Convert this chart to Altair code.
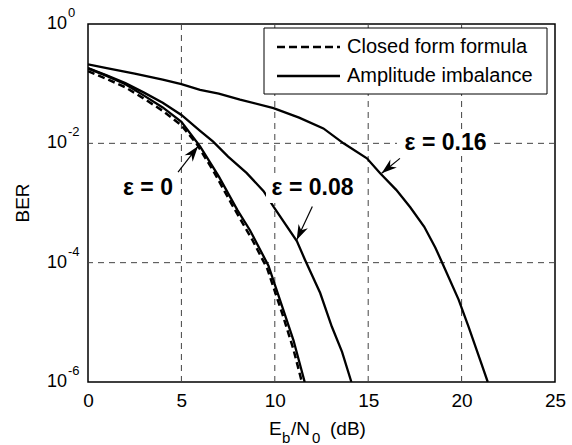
import math
import altair as alt
import pandas as pd

# ---------------- data ----------------
ebn0_closed = [0, 1, 2, 3, 4, 5, 5.8, 6.7, 7.7, 8.8, 9.6, 10.4, 11.0, 11.45]
ber_closed = [0.162, 0.12, 0.087, 0.056, 0.035, 0.020, 0.0100, 3.5e-3, 9.5e-4,
              2.4e-4, 7.9e-5, 1.4e-5, 3.5e-6, 1.0e-6]

ebn0_eps0 = [0, 1, 2, 3, 4, 5, 6, 7, 8, 8.67, 9.66, 10.46, 11.0, 11.6]
ber_eps0 = [0.18, 0.135, 0.098, 0.063, 0.040, 0.023, 8.9e-3, 2.8e-3, 7.6e-4,
            3.5e-4, 8.9e-5, 1.6e-5, 5.0e-6, 1.0e-6]

ebn0_eps008 = [0, 1, 2, 3, 4, 5, 6, 6.7, 7.5, 8.5, 9.4, 9.93, 11.18, 11.62,
               12.43, 13.05, 13.6, 14.1]
ber_eps008 = [0.182, 0.138, 0.102, 0.0708, 0.0479, 0.0299, 0.0162, 0.0107,
              6.0e-3, 3.16e-3, 1.58e-3, 8.7e-4, 2.3e-4, 1.11e-4, 3.1e-5,
              8.5e-6, 3.2e-6, 1.0e-6]

ebn0_eps016 = [0, 1, 2.5, 4, 5, 6, 7, 8.14, 9.93, 11.3, 12.6, 13.68, 14.93,
               15.64, 16.5, 17.25, 18.0, 18.59, 18.96, 19.84, 20.37, 21.0, 21.4]
ber_eps016 = [0.211, 0.182, 0.148, 0.117, 0.098, 0.079, 0.068, 0.054, 0.039,
              0.027, 0.0178, 0.0100, 5.6e-3, 3.16e-3, 1.66e-3, 8.5e-4, 4.0e-4,
              1.8e-4, 1.0e-4, 2.4e-5, 8.5e-6, 2.3e-6, 1.0e-6]

x_ticks = [0, 5, 10, 15, 20, 25]
x_grid = [5, 10, 15, 20]
y_ticks = [1, 1e-2, 1e-4, 1e-6]
y_tick_exps = ["0", "-2", "-4", "-6"]
y_grid = [1e-2, 1e-4]

legend_labels = ["Closed form formula", "Amplitude imbalance"]

# annotations (label text, label position, arrow start, arrow tip) in data units
ann_text = ["\u03b5 = 0", "\u03b5 = 0.08", "\u03b5 = 0.16"]
ann_tx = [3.21, 12.02, 19.14]
ann_ty = [1.8e-3, 1.8e-3, 1.0e-2]
arr_x0 = [4.82, 12.01, 16.70]
arr_y0 = [3.3e-3, 8.7e-4, 5.6e-3]
arr_x1 = [5.89, 11.17, 15.72]
arr_y1 = [8.9e-3, 2.4e-4, 3.16e-3]

# ---------------- layout ----------------
W, H = 467, 358
FONT = "Liberation Sans"

xs = alt.Scale(domain=[0, 25], nice=False, zero=False)
ys = alt.Scale(type="log", domain=[1e-6, 1], nice=False)


def px(v):
    return v / 25 * W


def py(b):
    return -math.log10(b) / 6 * H


angles = []
for a, b, c, d in zip(arr_x0, arr_y0, arr_x1, arr_y1):
    dx = px(c) - px(a)
    dy = py(d) - py(b)
    angles.append(math.degrees(math.atan2(dx, -dy)) % 360)

closed_df = pd.DataFrame({"x": ebn0_closed, "y": ber_closed})
sim_df = pd.concat([
    pd.DataFrame({"x": ebn0_eps0, "y": ber_eps0, "s": "e0"}),
    pd.DataFrame({"x": ebn0_eps008, "y": ber_eps008, "s": "e008"}),
    pd.DataFrame({"x": ebn0_eps016, "y": ber_eps016, "s": "e016"}),
])
ann_df = pd.DataFrame({"t": ann_text, "tx": ann_tx, "ty": ann_ty,
                       "x0": arr_x0, "y0": arr_y0, "x1": arr_x1, "y1": arr_y1,
                       "ang": angles})

one = pd.DataFrame({"k": [0]})

xaxis = alt.Axis(values=x_ticks, grid=False, ticks=False, tickSize=0,
                 domain=False, labelFontSize=19, labelFont=FONT,
                 labelColor="black", labelPadding=9, title=None,
                 labelFlush=False)
yaxis = None

# grid lines
gx = alt.Chart(pd.DataFrame({"g": x_grid})).mark_rule(
    color="#444", strokeWidth=1, strokeDash=[6, 5]
).encode(x=alt.X("g:Q", scale=xs, axis=xaxis))
gy = alt.Chart(pd.DataFrame({"g": y_grid})).mark_rule(
    color="#444", strokeWidth=1, strokeDash=[6, 5]
).encode(y=alt.Y("g:Q", scale=ys, axis=yaxis))

# curves
closed = alt.Chart(closed_df).mark_line(
    color="black", strokeWidth=2.5, strokeDash=[7, 4], clip=True
).encode(x=alt.X("x:Q", scale=xs), y=alt.Y("y:Q", scale=ys))
sims = alt.Chart(sim_df).mark_line(
    color="black", strokeWidth=2.3, clip=True
).encode(x=alt.X("x:Q", scale=xs), y=alt.Y("y:Q", scale=ys), detail="s:N")

# white boxes behind labels 0.08 and 0.16
box1 = alt.Chart(one).mark_rect(fill="white").encode(
    x=alt.value(178), x2=alt.value(270), y=alt.value(150), y2=alt.value(179))
box2 = alt.Chart(one).mark_rect(fill="white").encode(
    x=alt.value(309), x2=alt.value(404), y=alt.value(107), y2=alt.value(132))

# annotation text
ann_txt = alt.Chart(ann_df).mark_text(
    font=FONT, fontSize=23, fontWeight="bold", color="black",
    align="center", baseline="middle"
).encode(x=alt.X("tx:Q", scale=xs), y=alt.Y("ty:Q", scale=ys), text="t:N")

# arrows
arr_line = alt.Chart(ann_df).mark_rule(color="black", strokeWidth=1.2).encode(
    x=alt.X("x0:Q", scale=xs), y=alt.Y("y0:Q", scale=ys),
    x2="x1:Q", y2="y1:Q")
arr_head = alt.Chart(ann_df).mark_point(
    shape="M0,0L0.5,1.5L0,1.05L-0.5,1.5Z", filled=True, color="black",
    opacity=1, size=420
).encode(x=alt.X("x1:Q", scale=xs), y=alt.Y("y1:Q", scale=ys),
         angle=alt.Angle("ang:Q", scale=None))

# legend (manual, MATLAB style)
leg_box = alt.Chart(one).mark_rect(fill="white", stroke="black",
                                   strokeWidth=1).encode(
    x=alt.value(176), x2=alt.value(459), y=alt.value(4), y2=alt.value(70))
leg_dash = alt.Chart(one).mark_rule(color="black", strokeWidth=2.5,
                                    strokeDash=[8, 4]).encode(
    x=alt.value(189), x2=alt.value(252), y=alt.value(23))
leg_solid = alt.Chart(one).mark_rule(color="black", strokeWidth=2.3).encode(
    x=alt.value(189), x2=alt.value(252), y=alt.value(52))
leg_t1 = alt.Chart(one).mark_text(font=FONT, fontSize=20, align="left",
                                  baseline="middle", color="black").encode(
    x=alt.value(259), y=alt.value(23), text=alt.value(legend_labels[0]))
leg_t2 = alt.Chart(one).mark_text(font=FONT, fontSize=20, align="left",
                                  baseline="middle", color="black").encode(
    x=alt.value(259), y=alt.value(52), text=alt.value(legend_labels[1]))

# y tick labels 10^k
ytk = pd.DataFrame({"v": y_ticks, "e": y_tick_exps})
ylab10 = alt.Chart(ytk).mark_text(font=FONT, fontSize=18, align="left",
                                  baseline="middle", color="black").encode(
    x=alt.value(-41), y=alt.Y("v:Q", scale=ys), text=alt.value("10"))
ylabexp = alt.Chart(ytk).mark_text(font=FONT, fontSize=13, align="left",
                                   baseline="middle", color="black",
                                   dy=-11).encode(
    x=alt.value(-20), y=alt.Y("v:Q", scale=ys), text="e:N")

# axis titles
ber_t = alt.Chart(one).mark_text(font=FONT, fontSize=19, angle=270,
                                 align="center", baseline="middle",
                                 color="black").encode(
    x=alt.value(-65), y=alt.value(179), text=alt.value("BER"))


def tpart(txt, x, y, size):
    return alt.Chart(one).mark_text(font=FONT, fontSize=size, align="left",
                                    baseline="alphabetic",
                                    color="black").encode(
        x=alt.value(x), y=alt.value(y), text=alt.value(txt))


xt = (tpart("E", 181, 411, 19) + tpart("b", 194, 419, 15)
      + tpart("/N", 203, 411, 19) + tpart("0", 224, 419, 15)
      + tpart("(dB)", 242, 411, 19))

chart = alt.layer(
    gx, gy, closed, sims, box1, box2, ann_txt, arr_line, arr_head,
    leg_box, leg_dash, leg_solid, leg_t1, leg_t2,
    ylab10, ylabexp, ber_t, xt
).properties(
    width=W, height=H,
    autosize=alt.AutoSizeParams(type="none"),
    padding={"left": 88, "top": 24, "right": 17, "bottom": 63},
    background="white",
).configure_view(stroke="black", strokeWidth=1.5)

chart.save("out.html", embed_options={"renderer": "svg", "actions": False})
